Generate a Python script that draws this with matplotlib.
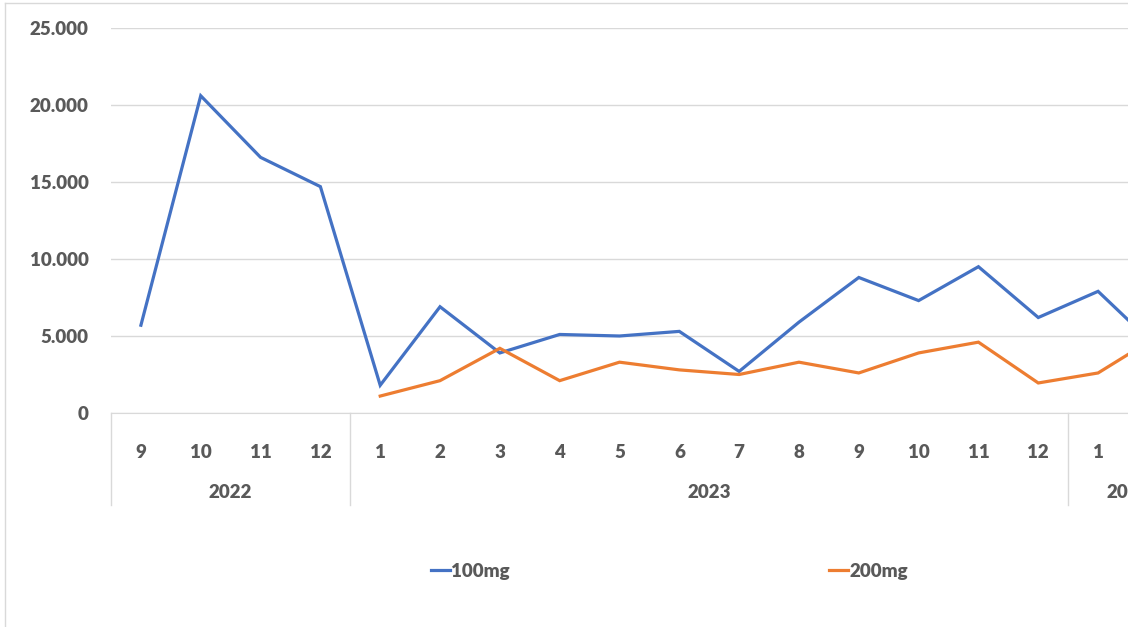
import matplotlib
matplotlib.use("Agg")
import matplotlib.pyplot as plt
import matplotlib.transforms as mtransforms
from matplotlib.lines import Line2D
from matplotlib.ticker import FuncFormatter

# data
years = ["2022", "2023", "2024"]
months_per_year = [4, 12, 2]
month_labels = ["9", "10", "11", "12",
                "1", "2", "3", "4", "5", "6", "7", "8", "9", "10", "11", "12",
                "1", "2"]
mg100 = [5700, 20600, 16600, 14700,
         1800, 6900, 3900, 5100, 5000, 5300, 2700, 5900, 8800, 7300, 9500, 6200,
         7900, 4200]
mg200 = [None, None, None, None,
         1100, 2100, 4200, 2100, 3300, 2800, 2500, 3300, 2600, 3900, 4600, 1950,
         2600, 5000]

blue = "#4472C4"
orange = "#ED7D31"
grey_txt = "#595959"
grid_c = "#d9d9d9"
plt.rcParams["font.family"] = ["Lato", "DejaVu Sans"]
fs = 13.5
wt = "heavy"

fig = plt.figure(figsize=(11.28, 6.27), dpi=100)
ax = fig.add_axes([111 / 1128, 1 - 413 / 627, 1 - 111 / 1128, (413 - 28) / 627])

x = list(range(len(month_labels)))
ax.plot(x, mg100, color=blue, lw=2.3, solid_joinstyle="miter")
x2 = [i for i, v in enumerate(mg200) if v is not None]
ax.plot(x2, [mg200[i] for i in x2], color=orange, lw=2.3, solid_joinstyle="miter")

ax.set_xticks(x)
ax.set_xticklabels(month_labels, fontsize=fs, fontweight=wt, color=grey_txt)
ax.tick_params(axis="x", length=0, pad=22)
ax.set_xlim(-0.5, 16.5)
ax.set_ylim(0, 25000)
ax.set_yticks(range(0, 25001, 5000))
ax.yaxis.set_major_formatter(FuncFormatter(lambda v, p: "0" if v == 0 else f"{int(v):,}".replace(",", ".")))
ax.grid(axis="y", color=grid_c, lw=1)
ax.set_axisbelow(True)
for s in ["top", "right", "left"]:
    ax.spines[s].set_visible(False)
ax.spines["bottom"].set_color(grid_c)
ax.tick_params(axis="y", length=0, pad=16, labelsize=fs, labelcolor=grey_txt)
for t in ax.get_yticklabels():
    t.set_fontweight(wt)

# year groups with separators below the axis
trans = mtransforms.blended_transform_factory(ax.transData, ax.transAxes)
ypx = (413 - 28)
start = -0.5
for yr, n in zip(years, months_per_year):
    ax.plot([start, start], [0, -(505 - 413) / ypx], color=grid_c, lw=1,
            transform=trans, clip_on=False)
    ax.text(start + n / 2, -(492 - 413) / ypx, yr, transform=trans,
            ha="center", va="center", fontsize=fs, fontweight=wt, color=grey_txt)
    start += n
ax.set_xlim(-0.5, 16.5)

# legend
leg = fig.legend(handles=[Line2D([], [], color=blue, lw=2.3),
                          Line2D([], [], color=orange, lw=2.3)],
                 labels=["100mg", "200mg"], ncol=2, loc="center",
                 bbox_to_anchor=(669.5 / 1128, 1 - 571 / 627), frameon=False,
                 handlelength=1.0, handletextpad=0.1, columnspacing=17.0,
                 prop={"size": fs, "weight": wt})
for t in leg.get_texts():
    t.set_color(grey_txt)

# chart area border
fig.add_artist(Line2D([5 / 1128, 1], [1 - 3 / 627, 1 - 3 / 627], color=grid_c, lw=1))
fig.add_artist(Line2D([5 / 1128, 5 / 1128], [0, 1 - 3 / 627], color=grid_c, lw=1))

fig.savefig("out.png", dpi=100)
